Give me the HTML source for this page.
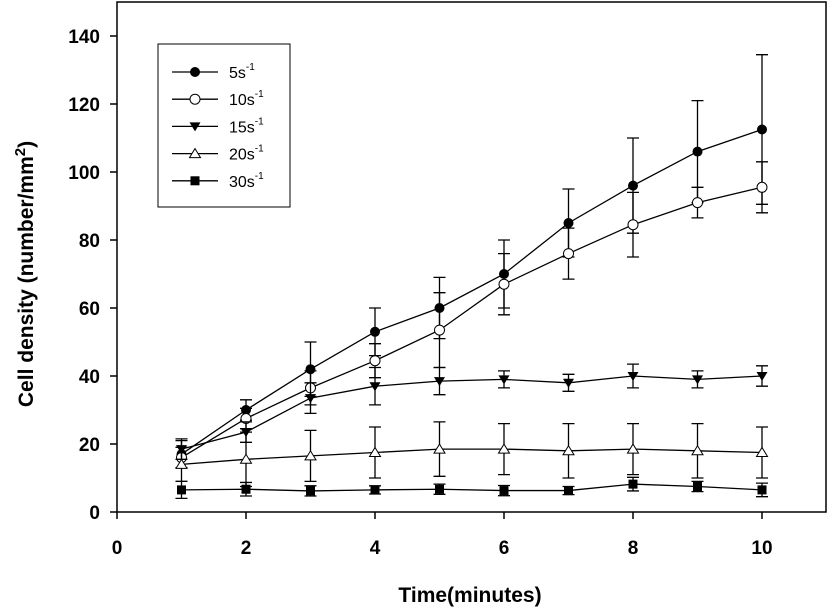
<!DOCTYPE html>
<html><head><meta charset="utf-8"><style>
body{margin:0;background:#fff;}
svg{display:block;font-family:"Liberation Sans",Arial,sans-serif;}
</style></head><body>
<svg id="chart" width="829" height="609" xmlns="http://www.w3.org/2000/svg">
<rect x="117" y="2" width="709" height="510" fill="none" stroke="#000" stroke-width="1.5"/>
<g id="axes"></g>
<g id="series"></g>
<text x="470" y="602" text-anchor="middle" font-weight="bold" font-size="21">Time(minutes)</text>
<text transform="translate(33,274) rotate(-90)" text-anchor="middle" font-weight="bold" font-size="21">Cell density (number/mm<tspan dy="-8" font-size="15">2</tspan><tspan dy="8">)</tspan></text>
<g>
<rect x="158" y="44" width="132" height="163" fill="#fff" stroke="#000" stroke-width="1"/>
<g id="legend-items"></g>
</g>
</svg>
<script>
const times=[1,2,3,4,5,6,7,8,9,10];
const labels=["5","10","15","20","30"];
const v5=[17,30,42,53,60,70,85,96,106,112.5];
const e5=[4,3,8,7,9,10,10,14,15,22];
const v10=[16,27.5,36.5,44.5,53.5,67,76,84.5,91,95.5];
const e10=[3,3,5,5,11,9,7.5,9.5,4.5,7.5];
const v15=[18.5,23.5,33.5,37,38.5,39,38,40,39,40];
const e15=[3,3,4.5,5.5,4,2.5,2.5,3.5,2.5,3];
const v20=[14,15.5,16.5,17.5,18.5,18.5,18,18.5,18,17.5];
const e20=[5,8,7.5,7.5,8,7.5,8,7.5,8,7.5];
const v30=[6.5,6.7,6.2,6.5,6.7,6.3,6.3,8.2,7.5,6.5];
const e30=[2.5,2,1.5,1.2,1.5,1.5,1.2,2,1.5,2];
const xTicks=[0,2,4,6,8,10];
const yTicks=[0,20,40,60,80,100,120,140];
const NS="http://www.w3.org/2000/svg";
const X=v=>117+64.5*v, Y=v=>512-3.4*v;
function mk(tag,attrs,parent){const e=document.createElementNS(NS,tag);for(const k in attrs)e.setAttribute(k,attrs[k]);parent.appendChild(e);return e;}
const axes=document.getElementById('axes');
xTicks.forEach(t=>{
 const l=mk('line',{x1:X(t),x2:X(t),y1:512,y2:519,stroke:'#000','stroke-width':1.5},axes);
 
 
 const tx=mk('text',{x:X(t),y:554,'text-anchor':'middle','font-weight':'bold','font-size':19},axes);
 tx.textContent=t;
 
 
});
yTicks.forEach(t=>{
 const l=mk('line',{x1:110,x2:117,y1:Y(t),y2:Y(t),stroke:'#000','stroke-width':1.5},axes);
 
 
 const tx=mk('text',{x:100,y:Y(t)+7,'text-anchor':'end','font-weight':'bold','font-size':19},axes);
 tx.textContent=t;
 
 
});
function marker(kind,x,y,g){
 if(kind===0)return mk('circle',{cx:x,cy:y,r:5,fill:'#000'},g);
 if(kind===1)return mk('circle',{cx:x,cy:y,r:5,fill:'#fff',stroke:'#000','stroke-width':1},g);
 if(kind===2)return mk('polygon',{points:`${x-5.5},${y-4} ${x+5.5},${y-4} ${x},${y+5}`,fill:'#000'},g);
 if(kind===3)return mk('polygon',{points:`${x-5.5},${y+4} ${x+5.5},${y+4} ${x},${y-5}`,fill:'#fff',stroke:'#000','stroke-width':1},g);
 return mk('rect',{x:x-4.5,y:y-4.5,width:9,height:9,fill:'#000'},g);
}
const all=[[v5,e5],[v10,e10],[v15,e15],[v20,e20],[v30,e30]];
const sg=document.getElementById('series');
all.forEach(([vals,errs],k)=>{
 const g=mk('g',{},sg);
 
 
 vals.forEach((v,i)=>{
  const x=X(times[i]);
  const eb=mk('path',{d:`M${x},${Y(v-errs[i])}V${Y(v+errs[i])}M${x-6},${Y(v+errs[i])}h12M${x-6},${Y(v-errs[i])}h12`,stroke:'#000','stroke-width':1.3,fill:'none'},g);
  
  
 });
 const ln=mk('polyline',{points:vals.map((v,i)=>X(times[i])+','+Y(v)).join(' '),fill:'none',stroke:'#000','stroke-width':1.3},g);
 
 
 vals.forEach((v,i)=>{
  const m=marker(k,X(times[i]),Y(v),g);
  
  
 });
});
const lg=document.getElementById('legend-items');
labels.forEach((lab,k)=>{
 const y=72+27.2*k;
 const g=mk('g',{},lg);
 
 
 mk('line',{x1:172,x2:218,y1:y,y2:y,stroke:'#000','stroke-width':1.3},g);
 marker(k,195,y,g);
 const t=mk('text',{x:229,y:y+6,'font-size':16},g);
 t.textContent=lab+'s';
 const sup=mk('tspan',{dy:-8,'font-size':10},t);
 sup.textContent='-1';
});
</script>
</body></html>
